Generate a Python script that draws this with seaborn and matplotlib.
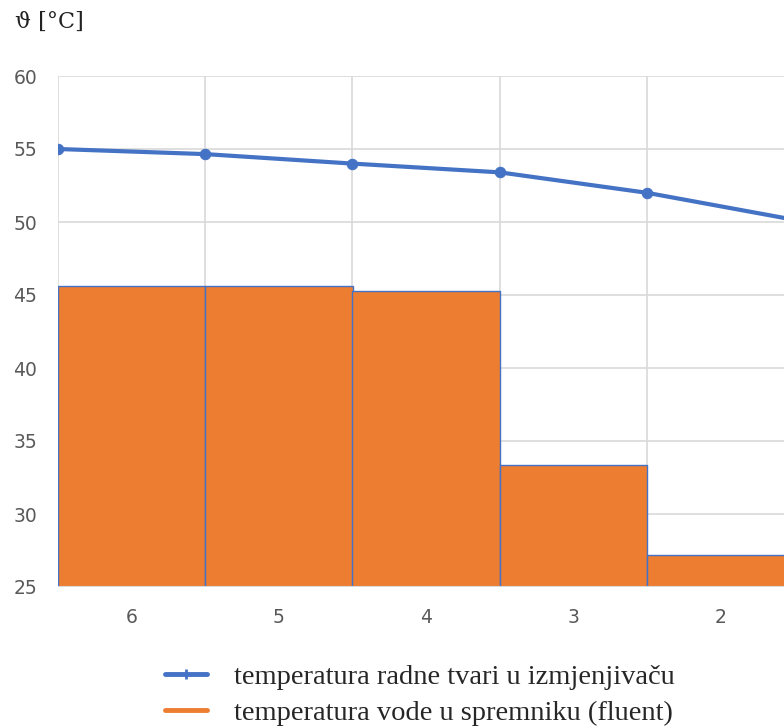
import numpy as np
import matplotlib
matplotlib.use("Agg")
import matplotlib.pyplot as plt
import seaborn as sns
from matplotlib.lines import Line2D

# ------------------------------
# DATA
# ------------------------------
stages = ["6", "5", "4", "3", "2"]
water_temp = [45.6, 45.6, 45.3, 33.35, 27.2]          # temperatura vode u spremniku
fluid_temp = [55.0, 54.65, 54.0, 53.4, 52.0, 50.15]   # radna tvar, na granicama
y_ticks = [25, 30, 35, 40, 45, 50, 55, 60]

BLUE = "#4472C4"
ORANGE = "#ED7D31"
GRID = "#D9D9D9"

sns.set_style("white")
plt.rcParams['font.family'] = ['DejaVu Sans']

fig = plt.figure(figsize=(7.84, 7.27), dpi=100)
# plot area runs a little past the right edge of the image (cut off like the original)
ax = fig.add_axes([58 / 784, 1 - 587 / 727, 5 * 147.25 / 784, (587 - 76) / 727])

# bars (one category = one unit wide, centred on 0..4)
sns.barplot(x=stages, y=water_temp, color=ORANGE, width=1.0, saturation=1,
            edgecolor=BLUE, linewidth=1.0, ax=ax, zorder=2)

# line points sit on the bar boundaries
edges = np.arange(len(fluid_temp)) - 0.5
sns.lineplot(x=edges, y=fluid_temp, color=BLUE, linewidth=3.0, marker="o",
             markersize=7.5, markeredgecolor=BLUE, ax=ax, zorder=4)

ax.set_ylim(25, 60)
ax.set_xlim(-0.5, 4.5)
ax.set_yticks(y_ticks)
ax.set_yticklabels([str(t) for t in y_ticks])
ax.set_axisbelow(True)
ax.grid(True, axis="y", color=GRID, linewidth=1.2)
ax.set_xticks(edges, minor=True)
ax.xaxis.grid(False, which="major")
ax.xaxis.grid(True, which="minor", color=GRID, linewidth=1.2)
ax.tick_params(axis="both", which="both", length=0, labelsize=13.5, colors="#595959")
ax.tick_params(axis="x", pad=15)
ax.tick_params(axis="y", pad=15)
for s in ax.spines.values():
    s.set_visible(False)
ax.axhline(25, color=GRID, linewidth=1.5, zorder=5)
ax.set_xlabel("")
ax.set_ylabel("")

fig.text(15 / 784, 1 - 22 / 727, "ϑ [°C]", fontsize=16, va="center", ha="left",
         family=['DejaVu Serif'], color="#222222")

handles = [
    Line2D([], [], color=BLUE, linewidth=3.5, marker="|", markersize=7, markeredgewidth=2),
    Line2D([], [], color=ORANGE, linewidth=3.5),
]
fig.legend(handles, ["temperatura radne tvari u izmjenjivaču",
                     "temperatura vode u spremniku (fluent)"],
           loc="center", bbox_to_anchor=(420 / 784, 1 - 695 / 727), frameon=False,
           prop={"family": ["Liberation Serif", "DejaVu Serif"], "size": 20.5},
           handlelength=1.45, labelspacing=0.35, handletextpad=0.95)

plt.savefig("out.png", dpi=100)
plt.close()
